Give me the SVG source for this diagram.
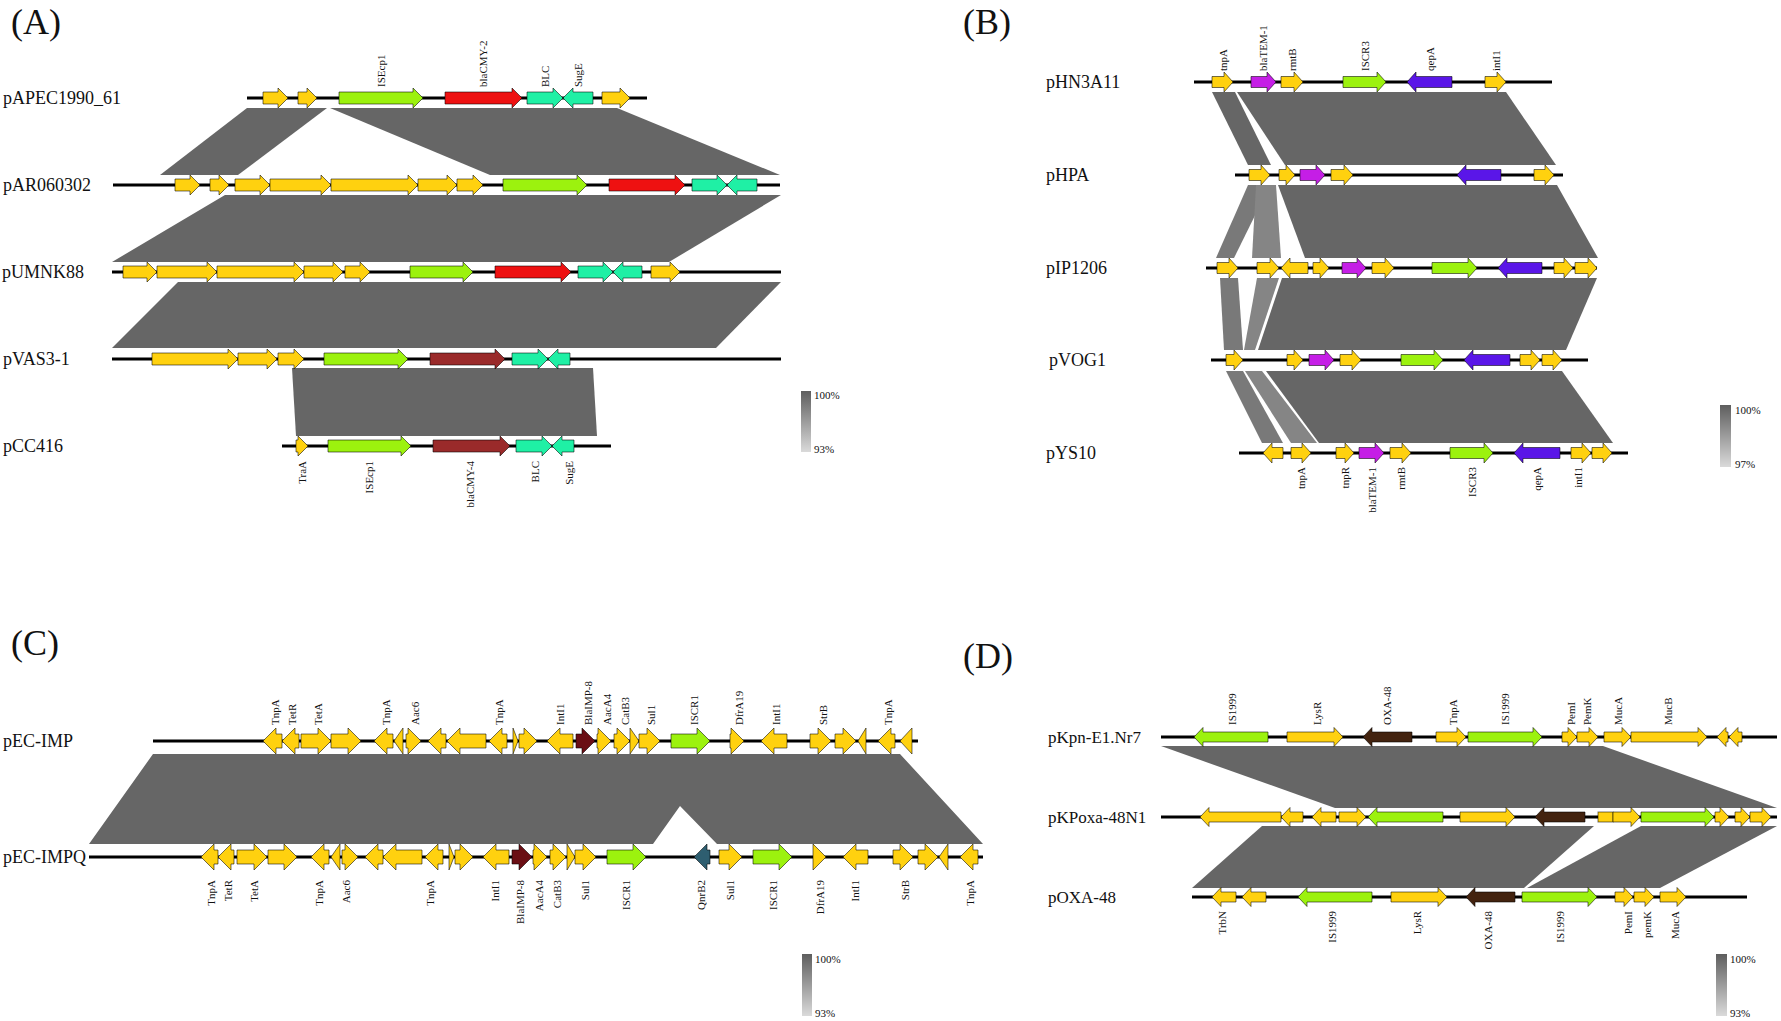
<svg xmlns="http://www.w3.org/2000/svg" width="1781" height="1021" viewBox="0 0 1781 1021">
<defs>
<linearGradient id="leg" x1="0" y1="0" x2="0" y2="1"><stop offset="0" stop-color="#5e5e5e"/><stop offset="1" stop-color="#dadada"/></linearGradient>
<style>
text{font-family:"Liberation Serif","Times New Roman",serif;fill:#111}
.pl{font-size:36px}
.nm{font-size:18px}
.nmd{font-size:17px}
.la{font-size:11px;text-anchor:start}
.lb{font-size:11px;text-anchor:end}
.lg{font-size:11px}
.ln{stroke:#000;stroke-width:3;fill:none}
.band{fill:#666}
.bl1{fill:#797979}
.bl2{fill:#858585}
path,rect.gn{stroke:#000;stroke-opacity:.55;stroke-width:1}
.y{fill:#FFD10F}.g{fill:#9CF20E}.r{fill:#EE1111}.t{fill:#1FF0A5}.dr{fill:#9A2A2A}
.p{fill:#C51EE6}.b{fill:#5A16E8}.im{fill:#6A0E14}.q{fill:#2E5E70}.o{fill:#43230F}
</style>
</defs>
<rect width="1781" height="1021" fill="#fff"/>

<text class="pl" x="11" y="34">(A)</text>
<text class="pl" x="963" y="34">(B)</text>
<text class="pl" x="11" y="655">(C)</text>
<text class="pl" x="963" y="668">(D)</text>

<g id="connectors">
<polygon class="band" points="247,108 327,108 238,175 160,175"/>
<polygon class="band" points="330,108 617,108 780,175 490,175"/>
<polygon class="band" points="225,195 781,195 669,262 112,262"/>
<polygon class="band" points="178,282 781,282 716,348 112,348"/>
<polygon class="band" points="292,368 593,368 597,436 296,436"/>

<polygon class="band" points="1212,92 1235,92 1271,165 1248,165"/>
<polygon class="band" points="1237,92 1506,92 1556,165 1285,165"/>
<polygon class="bl1" points="1248,185 1270,185 1234,258 1216,258"/>
<polygon class="bl2" points="1256,185 1276,185 1281,258 1252,258"/>
<polygon class="band" points="1278,185 1557,185 1598,258 1305,258"/>
<polygon class="bl1" points="1220,278 1238,278 1243,350 1224,350"/>
<polygon class="bl2" points="1257,278 1279,278 1255,350 1244,350"/>
<polygon class="band" points="1282,278 1597,278 1566,350 1258,350"/>
<polygon class="bl1" points="1226,371 1243,371 1283,443 1262,443"/>
<polygon class="bl2" points="1245,371 1262,371 1317,443 1291,443"/>
<polygon class="band" points="1266,371 1562,371 1613,443 1319,443"/>

<polygon class="band" points="153,754 900,754 983,844 717,844 680,806 653,844 89,844"/>

<polygon class="band" points="1161,746 1603,746 1777,808 1335,808"/>
<polygon class="band" points="1262,826 1594,826 1524,888 1192,888"/>
<polygon class="band" points="1641,826 1777,826 1660,888 1527,888"/>
</g>

<!-- Panel A -->
<g id="pAPEC1990_61">
<text class="nm" x="3" y="104">pAPEC1990_61</text>
<line class="ln" x1="247" y1="98" x2="647" y2="98"/>
<path class="y" d="M263,92h15v-4l10,10l-10,10v-4h-15z"/>
<path class="y" d="M298,92h9v-4l10,10l-10,10v-4h-9z"/>
<path class="g" d="M339,92h74v-4l10,10l-10,10v-4h-74z"/>
<path class="r" d="M445,92h67v-4l10,10l-10,10v-4h-67z"/>
<path class="t" d="M527,92h26v-4l10,10l-10,10v-4h-26z"/>
<path class="t" d="M593,92h-20v-4l-10,10l10,10v-4h20z"/>
<path class="y" d="M602,92h18v-4l10,10l-10,10v-4h-18z"/>
<text class="la" transform="translate(385,87) rotate(-90)">ISEcp1</text>
<text class="la" transform="translate(487,87) rotate(-90)">blaCMY-2</text>
<text class="la" transform="translate(549,87) rotate(-90)">BLC</text>
<text class="la" transform="translate(582,87) rotate(-90)">SugE</text>
</g>
<g id="pAR060302">
<text class="nm" x="3" y="191">pAR060302</text>
<line class="ln" x1="113" y1="185" x2="780" y2="185"/>
<path class="y" d="M175,179h15v-4l10,10l-10,10v-4h-15z"/>
<path class="y" d="M210,179h9v-4l10,10l-10,10v-4h-9z"/>
<path class="y" d="M235,179h25v-4l10,10l-10,10v-4h-25z"/>
<path class="y" d="M270,179h51v-4l10,10l-10,10v-4h-51z"/>
<path class="y" d="M331,179h77v-4l10,10l-10,10v-4h-77z"/>
<path class="y" d="M418,179h29v-4l10,10l-10,10v-4h-29z"/>
<path class="y" d="M457,179h16v-4l10,10l-10,10v-4h-16z"/>
<path class="g" d="M503,179h74v-4l10,10l-10,10v-4h-74z"/>
<path class="r" d="M609,179h66v-4l10,10l-10,10v-4h-66z"/>
<path class="t" d="M692,179h25v-4l10,10l-10,10v-4h-25z"/>
<path class="t" d="M757,179h-20v-4l-10,10l10,10v-4h20z"/>
</g>
<g id="pUMNK88">
<text class="nm" x="2" y="278">pUMNK88</text>
<line class="ln" x1="112" y1="272" x2="781" y2="272"/>
<path class="y" d="M123,266h24v-4l10,10l-10,10v-4h-24z"/>
<path class="y" d="M157,266h50v-4l10,10l-10,10v-4h-50z"/>
<path class="y" d="M217,266h77v-4l10,10l-10,10v-4h-77z"/>
<path class="y" d="M304,266h29v-4l10,10l-10,10v-4h-29z"/>
<path class="y" d="M345,266h15v-4l10,10l-10,10v-4h-15z"/>
<path class="g" d="M410,266h53v-4l10,10l-10,10v-4h-53z"/>
<path class="r" d="M495,266h66v-4l10,10l-10,10v-4h-66z"/>
<path class="t" d="M578,266h25v-4l10,10l-10,10v-4h-25z"/>
<path class="t" d="M642,266h-19v-4l-10,10l10,10v-4h19z"/>
<path class="y" d="M651,266h19v-4l10,10l-10,10v-4h-19z"/>
</g>
<g id="pVAS3-1">
<text class="nm" x="3" y="365">pVAS3-1</text>
<line class="ln" x1="112" y1="359" x2="781" y2="359"/>
<path class="y" d="M152,353h76v-4l10,10l-10,10v-4h-76z"/>
<path class="y" d="M238,353h29v-4l10,10l-10,10v-4h-29z"/>
<path class="y" d="M278,353h16v-4l10,10l-10,10v-4h-16z"/>
<path class="g" d="M324,353h74v-4l10,10l-10,10v-4h-74z"/>
<path class="dr" d="M430,353h65v-4l10,10l-10,10v-4h-65z"/>
<path class="t" d="M512,353h26v-4l10,10l-10,10v-4h-26z"/>
<path class="t" d="M570,353h-12v-4l-10,10l10,10v-4h12z"/>
</g>
<g id="pCC416">
<text class="nm" x="3" y="452">pCC416</text>
<line class="ln" x1="282" y1="446" x2="611" y2="446"/>
<path class="y" d="M296,440h2v-4l10,10l-10,10v-4h-2z"/>
<path class="g" d="M328,440h73v-4l10,10l-10,10v-4h-73z"/>
<path class="dr" d="M433,440h67v-4l10,10l-10,10v-4h-67z"/>
<path class="t" d="M516,440h26v-4l10,10l-10,10v-4h-26z"/>
<path class="t" d="M574,440h-12v-4l-10,10l10,10v-4h12z"/>
<text class="lb" transform="translate(306,461) rotate(-90)">TraA</text>
<text class="lb" transform="translate(373,461) rotate(-90)">ISEcp1</text>
<text class="lb" transform="translate(474,461) rotate(-90)">blaCMY-4</text>
<text class="lb" transform="translate(539,461) rotate(-90)">BLC</text>
<text class="lb" transform="translate(573,461) rotate(-90)">SugE</text>
</g>
<g id="legendA">
<rect x="801" y="391" width="10" height="61" fill="url(#leg)"/>
<text class="lg" x="814" y="399">100%</text>
<text class="lg" x="814" y="453">93%</text>
</g>

<!-- Panel B -->
<g id="pHN3A11">
<text class="nm" x="1046" y="88">pHN3A11</text>
<line class="ln" x1="1194" y1="82" x2="1552" y2="82"/>
<path class="y" d="M1212,76.5h12v-4.5l9,10l-9,10v-4.5h-12z"/>
<path class="p" d="M1251,76.5h16v-4.5l9,10l-9,10v-4.5h-16z"/>
<path class="y" d="M1281,76.5h13v-4.5l9,10l-9,10v-4.5h-13z"/>
<path class="g" d="M1343,76.5h34v-4.5l9,10l-9,10v-4.5h-34z"/>
<path class="b" d="M1452,76.5h-36v-4.5l-9,10l9,10v-4.5h36z"/>
<path class="y" d="M1485,76.5h12v-4.5l9,10l-9,10v-4.5h-12z"/>
<text class="la" transform="translate(1227,71) rotate(-90)">tnpA</text>
<text class="la" transform="translate(1267,71) rotate(-90)">blaTEM-1</text>
<text class="la" transform="translate(1296,71) rotate(-90)">rmtB</text>
<text class="la" transform="translate(1369,71) rotate(-90)">ISCR3</text>
<text class="la" transform="translate(1434,71) rotate(-90)">qepA</text>
<text class="la" transform="translate(1500,71) rotate(-90)">intI1</text>
</g>
<g id="pHPA">
<text class="nm" x="1046" y="181">pHPA</text>
<line class="ln" x1="1235" y1="175" x2="1563" y2="175"/>
<path class="y" d="M1249,169.5h12v-4.5l9,10l-9,10v-4.5h-12z"/>
<path class="y" d="M1279,169.5h7v-4.5l9,10l-9,10v-4.5h-7z"/>
<path class="p" d="M1300,169.5h16v-4.5l9,10l-9,10v-4.5h-16z"/>
<path class="y" d="M1331,169.5h13v-4.5l9,10l-9,10v-4.5h-13z"/>
<path class="b" d="M1501,169.5h-35v-4.5l-9,10l9,10v-4.5h35z"/>
<path class="y" d="M1534,169.5h11v-4.5l9,10l-9,10v-4.5h-11z"/>
</g>
<g id="pIP1206">
<text class="nm" x="1046" y="274">pIP1206</text>
<line class="ln" x1="1206" y1="268" x2="1597" y2="268"/>
<path class="y" d="M1217,262.5h12v-4.5l9,10l-9,10v-4.5h-12z"/>
<path class="y" d="M1257,262.5h13v-4.5l9,10l-9,10v-4.5h-13z"/>
<path class="y" d="M1308,262.5h-18v-4.5l-9,10l9,10v-4.5h18z"/>
<path class="y" d="M1313,262.5h7v-4.5l9,10l-9,10v-4.5h-7z"/>
<path class="p" d="M1342,262.5h15v-4.5l9,10l-9,10v-4.5h-15z"/>
<path class="y" d="M1372,262.5h13v-4.5l9,10l-9,10v-4.5h-13z"/>
<path class="g" d="M1432,262.5h36v-4.5l9,10l-9,10v-4.5h-36z"/>
<path class="b" d="M1542,262.5h-35v-4.5l-9,10l9,10v-4.5h35z"/>
<path class="y" d="M1554,262.5h10v-4.5l9,10l-9,10v-4.5h-10z"/>
<path class="y" d="M1575,262.5h13v-4.5l9,10l-9,10v-4.5h-13z"/>
</g>
<g id="pVOG1">
<text class="nm" x="1049" y="366">pVOG1</text>
<line class="ln" x1="1211" y1="360" x2="1588" y2="360"/>
<path class="y" d="M1226,354.5h8v-4.5l9,10l-9,10v-4.5h-8z"/>
<path class="y" d="M1287,354.5h7v-4.5l9,10l-9,10v-4.5h-7z"/>
<path class="p" d="M1309,354.5h16v-4.5l9,10l-9,10v-4.5h-16z"/>
<path class="y" d="M1340,354.5h12v-4.5l9,10l-9,10v-4.5h-12z"/>
<path class="g" d="M1401,354.5h33v-4.5l9,10l-9,10v-4.5h-33z"/>
<path class="b" d="M1510,354.5h-37v-4.5l-9,10l9,10v-4.5h37z"/>
<path class="y" d="M1520,354.5h11v-4.5l9,10l-9,10v-4.5h-11z"/>
<path class="y" d="M1542,354.5h11v-4.5l9,10l-9,10v-4.5h-11z"/>
</g>
<g id="pYS10">
<text class="nm" x="1046" y="459">pYS10</text>
<line class="ln" x1="1239" y1="453" x2="1628" y2="453"/>
<path class="y" d="M1283,447.5h-11v-4.5l-9,10l9,10v-4.5h11z"/>
<path class="y" d="M1291,447.5h11v-4.5l9,10l-9,10v-4.5h-11z"/>
<path class="y" d="M1336,447.5h9v-4.5l9,10l-9,10v-4.5h-9z"/>
<path class="p" d="M1359,447.5h16v-4.5l9,10l-9,10v-4.5h-16z"/>
<path class="y" d="M1390,447.5h12v-4.5l9,10l-9,10v-4.5h-12z"/>
<path class="g" d="M1450,447.5h34v-4.5l9,10l-9,10v-4.5h-34z"/>
<path class="b" d="M1560,447.5h-37v-4.5l-9,10l9,10v-4.5h37z"/>
<path class="y" d="M1571,447.5h11v-4.5l9,10l-9,10v-4.5h-11z"/>
<path class="y" d="M1592,447.5h11v-4.5l9,10l-9,10v-4.5h-11z"/>
<text class="lb" transform="translate(1305,467) rotate(-90)">tnpA</text>
<text class="lb" transform="translate(1349,467) rotate(-90)">tnpR</text>
<text class="lb" transform="translate(1375.5,467) rotate(-90)">blaTEM-1</text>
<text class="lb" transform="translate(1404.5,467) rotate(-90)">rmtB</text>
<text class="lb" transform="translate(1475.5,467) rotate(-90)">ISCR3</text>
<text class="lb" transform="translate(1541,467) rotate(-90)">qepA</text>
<text class="lb" transform="translate(1582,467) rotate(-90)">intI1</text>
</g>
<g id="legendB">
<rect x="1720" y="405" width="11" height="62" fill="url(#leg)"/>
<text class="lg" x="1735" y="414">100%</text>
<text class="lg" x="1735" y="468">97%</text>
</g>

<!-- Panel C -->
<g id="pEC-IMP">
<text class="nm" x="3" y="747">pEC-IMP</text>
<line class="ln" x1="153" y1="741" x2="918" y2="741"/>
<path class="y" d="M282,734h-6v-6l-13,13l13,13v-6h6z"/>
<path class="y" d="M299,734h-4v-6l-13,13l13,13v-6h4z"/>
<path class="y" d="M301,734h17v-6l13,13l-13,13v-6h-17z"/>
<path class="y" d="M331,734h17v-6l13,13l-13,13v-6h-17z"/>
<path class="y" d="M393,734h-6v-6l-13,13l13,13v-6h6z"/>
<path class="y" d="M403,728l-9,13l9,13z"/>
<path class="y" d="M406,734h2v-6l13,13l-13,13v-6h-2z"/>
<path class="y" d="M446,734h-5v-6l-13,13l13,13v-6h5z"/>
<path class="y" d="M486,734h-26v-6l-13,13l13,13v-6h26z"/>
<path class="y" d="M507,734h-5v-6l-13,13l13,13v-6h5z"/>
<path class="y" d="M513,728l5,13l-5,13z"/>
<path class="y" d="M519,734h5v-6l13,13l-13,13v-6h-5z"/>
<path class="y" d="M573,734h-13v-6l-13,13l13,13v-6h13z"/>
<path class="im" d="M576,734h6v-6l13,13l-13,13v-6h-6z"/>
<path class="y" d="M597,734h1v-6l13,13l-13,13v-6h-1z"/>
<path class="y" d="M614,734h3v-6l13,13l-13,13v-6h-3z"/>
<path class="y" d="M630,728l9,13l-9,13z"/>
<path class="y" d="M639,734h8v-6l13,13l-13,13v-6h-8z"/>
<path class="g" d="M671,734h26v-6l13,13l-13,13v-6h-26z"/>
<path class="y" d="M730,734h1v-6l13,13l-13,13v-6h-1z"/>
<path class="y" d="M787,734h-13v-6l-13,13l13,13v-6h13z"/>
<path class="y" d="M810,734h8v-6l13,13l-13,13v-6h-8z"/>
<path class="y" d="M835,734h8v-6l13,13l-13,13v-6h-8z"/>
<path class="y" d="M866,728l-8,13l8,13z"/>
<path class="y" d="M895,734h-4v-6l-13,13l13,13v-6h4z"/>
<path class="y" d="M912,728l-12,13l12,13z"/>
<text class="la" transform="translate(279,725) rotate(-90)">TnpA</text>
<text class="la" transform="translate(296,725) rotate(-90)">TetR</text>
<text class="la" transform="translate(322,725) rotate(-90)">TetA</text>
<text class="la" transform="translate(390,725) rotate(-90)">TnpA</text>
<text class="la" transform="translate(419,725) rotate(-90)">Aac6</text>
<text class="la" transform="translate(503,725) rotate(-90)">TnpA</text>
<text class="la" transform="translate(564,725) rotate(-90)">IntI1</text>
<text class="la" transform="translate(592,725) rotate(-90)">BlaIMP-8</text>
<text class="la" transform="translate(611,725) rotate(-90)">AacA4</text>
<text class="la" transform="translate(629,725) rotate(-90)">CatB3</text>
<text class="la" transform="translate(655,725) rotate(-90)">Sul1</text>
<text class="la" transform="translate(698,725) rotate(-90)">ISCR1</text>
<text class="la" transform="translate(743,725) rotate(-90)">DfrA19</text>
<text class="la" transform="translate(780,725) rotate(-90)">IntI1</text>
<text class="la" transform="translate(827,725) rotate(-90)">StrB</text>
<text class="la" transform="translate(892,725) rotate(-90)">TnpA</text>
</g>
<g id="pEC-IMPQ">
<text class="nm" x="3" y="863">pEC-IMPQ</text>
<line class="ln" x1="89" y1="857" x2="983" y2="857"/>
<path class="y" d="M218,850h-4v-6l-13,13l13,13v-6h4z"/>
<path class="y" d="M234,850h-3v-6l-13,13l13,13v-6h3z"/>
<path class="y" d="M237,850h17v-6l13,13l-13,13v-6h-17z"/>
<path class="y" d="M268,850h16v-6l13,13l-13,13v-6h-16z"/>
<path class="y" d="M329,850h-5v-6l-13,13l13,13v-6h5z"/>
<path class="y" d="M340,844l-9,13l9,13z"/>
<path class="y" d="M342,850h3v-6l13,13l-13,13v-6h-3z"/>
<path class="y" d="M383,850h-5v-6l-13,13l13,13v-6h5z"/>
<path class="y" d="M422,850h-26v-6l-13,13l13,13v-6h26z"/>
<path class="y" d="M443,850h-5v-6l-13,13l13,13v-6h5z"/>
<path class="y" d="M449,844l5,13l-5,13z"/>
<path class="y" d="M455,850h5v-6l13,13l-13,13v-6h-5z"/>
<path class="y" d="M509,850h-13v-6l-13,13l13,13v-6h13z"/>
<path class="im" d="M512,850h7v-6l13,13l-13,13v-6h-7z"/>
<path class="y" d="M533,850h1v-6l13,13l-13,13v-6h-1z"/>
<path class="y" d="M550,850h3v-6l13,13l-13,13v-6h-3z"/>
<path class="y" d="M567,844l8,13l-8,13z"/>
<path class="y" d="M575,850h8v-6l13,13l-13,13v-6h-8z"/>
<path class="g" d="M607,850h26v-6l13,13l-13,13v-6h-26z"/>
<path class="q" d="M710,850h-3v-6l-13,13l13,13v-6h3z"/>
<path class="y" d="M719,850h10v-6l13,13l-13,13v-6h-10z"/>
<path class="g" d="M753,850h26v-6l13,13l-13,13v-6h-26z"/>
<path class="y" d="M813,844l13,13l-13,13z"/>
<path class="y" d="M868,850h-12v-6l-13,13l13,13v-6h12z"/>
<path class="y" d="M893,850h7v-6l13,13l-13,13v-6h-7z"/>
<path class="y" d="M918,850h7v-6l13,13l-13,13v-6h-7z"/>
<path class="y" d="M948,844l-9,13l9,13z"/>
<path class="y" d="M978,850h-5v-6l-13,13l13,13v-6h5z"/>
<text class="lb" transform="translate(215,880) rotate(-90)">TnpA</text>
<text class="lb" transform="translate(232,880) rotate(-90)">TetR</text>
<text class="lb" transform="translate(258,880) rotate(-90)">TetA</text>
<text class="lb" transform="translate(323,880) rotate(-90)">TnpA</text>
<text class="lb" transform="translate(350,880) rotate(-90)">Aac6</text>
<text class="lb" transform="translate(434,880) rotate(-90)">TnpA</text>
<text class="lb" transform="translate(499,880) rotate(-90)">IntI1</text>
<text class="lb" transform="translate(524,880) rotate(-90)">BlaIMP-8</text>
<text class="lb" transform="translate(543,880) rotate(-90)">AacA4</text>
<text class="lb" transform="translate(561,880) rotate(-90)">CatB3</text>
<text class="lb" transform="translate(589,880) rotate(-90)">Sul1</text>
<text class="lb" transform="translate(630,880) rotate(-90)">ISCR1</text>
<text class="lb" transform="translate(705,880) rotate(-90)">QnrB2</text>
<text class="lb" transform="translate(734,880) rotate(-90)">Sul1</text>
<text class="lb" transform="translate(777,880) rotate(-90)">ISCR1</text>
<text class="lb" transform="translate(824,880) rotate(-90)">DfrA19</text>
<text class="lb" transform="translate(859,880) rotate(-90)">IntI1</text>
<text class="lb" transform="translate(909,880) rotate(-90)">StrB</text>
<text class="lb" transform="translate(974,880) rotate(-90)">TnpA</text>
</g>
<g id="legendC">
<rect x="802" y="954" width="10" height="62" fill="url(#leg)"/>
<text class="lg" x="815" y="963">100%</text>
<text class="lg" x="815" y="1017">93%</text>
</g>

<!-- Panel D -->
<g id="pKpn-E1.Nr7">
<text class="nmd" x="1048" y="743">pKpn-E1.Nr7</text>
<line class="ln" x1="1161" y1="737" x2="1777" y2="737"/>
<path class="g" d="M1268,732h-65v-4.5l-9,9.5l9,9.5v-4.5h65z"/>
<path class="y" d="M1287,732h47v-4.5l9,9.5l-9,9.5v-4.5h-47z"/>
<path class="o" d="M1412,732h-40v-4.5l-9,9.5l9,9.5v-4.5h40z"/>
<path class="y" d="M1436,732h21v-4.5l9,9.5l-9,9.5v-4.5h-21z"/>
<path class="g" d="M1468,732h65v-4.5l9,9.5l-9,9.5v-4.5h-65z"/>
<path class="y" d="M1562,732h6v-4.5l9,9.5l-9,9.5v-4.5h-6z"/>
<path class="y" d="M1577,732h12v-4.5l9,9.5l-9,9.5v-4.5h-12z"/>
<path class="y" d="M1604,732h18v-4.5l9,9.5l-9,9.5v-4.5h-18z"/>
<path class="y" d="M1631,732h67v-4.5l9,9.5l-9,9.5v-4.5h-67z"/>
<path class="y" d="M1728,732h-2v-4.5l-9,9.5l9,9.5v-4.5h2z"/>
<path class="y" d="M1742,732h-4v-4.5l-9,9.5l9,9.5v-4.5h4z"/>
<text class="la" transform="translate(1236,725) rotate(-90)">IS1999</text>
<text class="la" transform="translate(1321,725) rotate(-90)">LysR</text>
<text class="la" transform="translate(1391,725) rotate(-90)">OXA-48</text>
<text class="la" transform="translate(1457,725) rotate(-90)">TnpA</text>
<text class="la" transform="translate(1509,725) rotate(-90)">IS1999</text>
<text class="la" transform="translate(1575,725) rotate(-90)">PemI</text>
<text class="la" transform="translate(1591,725) rotate(-90)">PemK</text>
<text class="la" transform="translate(1622,725) rotate(-90)">MucA</text>
<text class="la" transform="translate(1672,725) rotate(-90)">MucB</text>
</g>
<g id="pKPoxa-48N1">
<text class="nmd" x="1048" y="823">pKPoxa-48N1</text>
<line class="ln" x1="1161" y1="817" x2="1777" y2="817"/>
<path class="y" d="M1281,812h-72v-4.5l-9,9.5l9,9.5v-4.5h72z"/>
<path class="y" d="M1303,812h-13v-4.5l-9,9.5l9,9.5v-4.5h13z"/>
<path class="y" d="M1336,812h-15v-4.5l-9,9.5l9,9.5v-4.5h15z"/>
<path class="y" d="M1339,812h18v-4.5l9,9.5l-9,9.5v-4.5h-18z"/>
<path class="g" d="M1443,812h-66v-4.5l-9,9.5l9,9.5v-4.5h66z"/>
<path class="y" d="M1460,812h46v-4.5l9,9.5l-9,9.5v-4.5h-46z"/>
<path class="o" d="M1585,812h-41v-4.5l-9,9.5l9,9.5v-4.5h41z"/>
<rect class="gn y" x="1598" y="812" width="15" height="10"/>
<path class="y" d="M1613,812h18v-4.5l9,9.5l-9,9.5v-4.5h-18z"/>
<path class="g" d="M1641,812h64v-4.5l9,9.5l-9,9.5v-4.5h-64z"/>
<path class="y" d="M1715,812h5v-4.5l9,9.5l-9,9.5v-4.5h-5z"/>
<path class="y" d="M1735,812h6v-4.5l9,9.5l-9,9.5v-4.5h-6z"/>
<path class="y" d="M1750,812h12v-4.5l9,9.5l-9,9.5v-4.5h-12z"/>
</g>
<g id="pOXA-48">
<text class="nmd" x="1048" y="903">pOXA-48</text>
<line class="ln" x1="1192" y1="897" x2="1747" y2="897"/>
<path class="y" d="M1236,892h-15v-4.5l-9,9.5l9,9.5v-4.5h15z"/>
<path class="y" d="M1266,892h-15v-4.5l-9,9.5l9,9.5v-4.5h15z"/>
<path class="g" d="M1372,892h-65v-4.5l-9,9.5l9,9.5v-4.5h65z"/>
<path class="y" d="M1391,892h47v-4.5l9,9.5l-9,9.5v-4.5h-47z"/>
<path class="o" d="M1515,892h-40v-4.5l-9,9.5l9,9.5v-4.5h40z"/>
<path class="g" d="M1522,892h66v-4.5l9,9.5l-9,9.5v-4.5h-66z"/>
<path class="y" d="M1615,892h9v-4.5l9,9.5l-9,9.5v-4.5h-9z"/>
<path class="y" d="M1634,892h11v-4.5l9,9.5l-9,9.5v-4.5h-11z"/>
<path class="y" d="M1660,892h17v-4.5l9,9.5l-9,9.5v-4.5h-17z"/>
<text class="lb" transform="translate(1226,911) rotate(-90)">TrbN</text>
<text class="lb" transform="translate(1336,911) rotate(-90)">IS1999</text>
<text class="lb" transform="translate(1421,911) rotate(-90)">LysR</text>
<text class="lb" transform="translate(1492,911) rotate(-90)">OXA-48</text>
<text class="lb" transform="translate(1564,911) rotate(-90)">IS1999</text>
<text class="lb" transform="translate(1632,911) rotate(-90)">PemI</text>
<text class="lb" transform="translate(1651,911) rotate(-90)">pemK</text>
<text class="lb" transform="translate(1679,911) rotate(-90)">MucA</text>
</g>
<g id="legendD">
<rect x="1716" y="954" width="11" height="62" fill="url(#leg)"/>
<text class="lg" x="1730" y="963">100%</text>
<text class="lg" x="1730" y="1017">93%</text>
</g>
</svg>
